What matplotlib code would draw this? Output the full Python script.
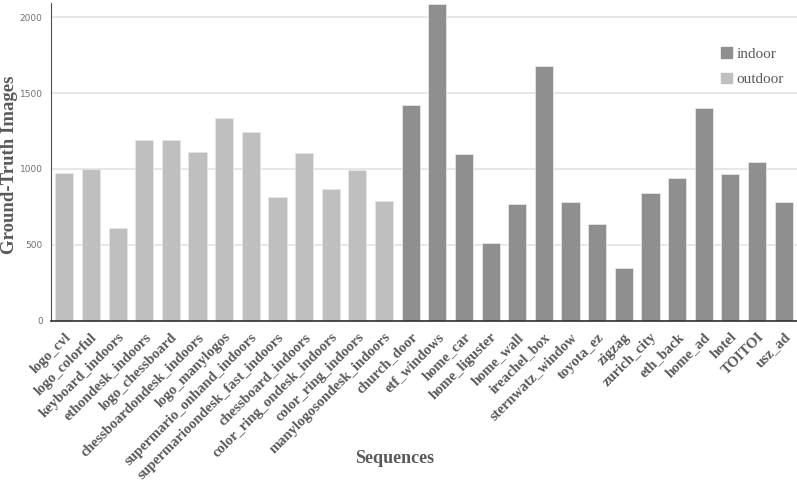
import matplotlib
matplotlib.use("Agg")
import matplotlib.pyplot as plt
from matplotlib.patches import Patch

# 序列名称与真值图像数量
sequences = [
    "logo_cvl", "logo_colorful", "keyboard_indoors", "ethondesk_indoors",
    "logo_chessboard", "chessboardondesk_indoors", "logo_manylogos",
    "supermario_onhand_indoors", "supermarioondesk_fast_indoors",
    "chessboard_indoors", "color_ring_ondesk_indoors", "color_ring_indoors",
    "manylogosondesk_indoors", "church_door", "etf_windows", "home_car",
    "home_liguster", "home_wall", "ireachel_box", "sternwatz_window",
    "toyota_ez", "zigzag", "zurich_city", "eth_back", "home_ad", "hotel",
    "TOITOI", "usz_ad",
]
counts = [
    976, 998, 609, 1189, 1189, 1114, 1334, 1242, 815, 1103, 866, 996, 787,
    1420, 2090, 1097, 510, 767, 1675, 780, 640, 347, 842, 938, 1402, 965,
    1048, 785,
]
scene = ["outdoor"] * 13 + ["indoor"] * 15

colors = {"indoor": "#8f8f8f", "outdoor": "#bfbfbf"}
serif = ["Liberation Serif", "DejaVu Serif"]

fig = plt.figure(figsize=(7.97, 4.83), dpi=100)
ax = fig.add_axes([0.064, 0.336, 0.936, 0.658])

x = list(range(len(sequences)))
ax.bar(x, counts, width=0.68, color=[colors[s] for s in scene],
       edgecolor="#e6e6e6", linewidth=0.6, zorder=2)

ax.set_xlim(-0.5, len(sequences) - 0.5)
ax.set_ylim(0, 2094)
ax.set_yticks([0, 500, 1000, 1500, 2000])
ax.grid(axis="y", color="#e3e3e3", linewidth=1.2, zorder=0)
ax.tick_params(axis="y", length=0, labelsize=6.5, labelcolor="#707070", pad=6)
ax.tick_params(axis="x", length=0, pad=7)

ax.set_xticks(x)
ax.set_xticklabels(sequences, rotation=45, ha="right", rotation_mode="anchor",
                   family=serif, fontweight="bold", fontsize=10.5, color="#595959")

for side in ["top", "right"]:
    ax.spines[side].set_visible(False)
ax.spines["left"].set_color("#505050")
ax.spines["bottom"].set_color("#303030")
ax.spines["bottom"].set_linewidth(1.2)

fig.text(0.012, 0.658, "Ground-Truth Images", family=serif, fontweight="bold",
         fontsize=13.5, color="#595959", rotation=90, ha="center", va="center")
fig.text(0.495, 0.05, "Sequences", family=serif, fontweight="bold",
         fontsize=13, color="#595959", ha="center", va="center")

handles = [Patch(color=colors["indoor"], label="indoor"),
           Patch(color=colors["outdoor"], label="outdoor")]
ax.legend(handles=handles, loc="upper left", bbox_to_anchor=(0.88, 0.905),
          frameon=False, prop={"family": serif, "size": 11},
          labelcolor="#595959", handlelength=0.7, handleheight=0.7,
          handletextpad=0.3, labelspacing=0.8)

fig.savefig("out.png", dpi=100)
